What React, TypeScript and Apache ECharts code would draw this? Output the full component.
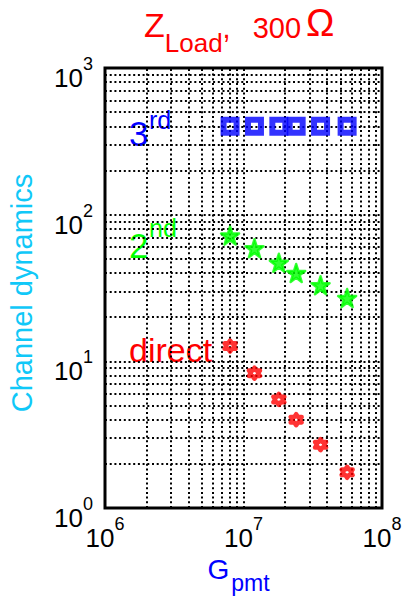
import React, { useEffect, useRef } from 'react';
import * as echarts from 'echarts';

const gains = [8e6, 1.2e7, 1.8e7, 2.4e7, 3.6e7, 5.6e7];
const thirdOrder = [400, 400, 400, 400, 400, 400];
const secondOrder = [72, 59, 47, 40, 33, 27];
const directPath = [12.7, 8.3, 5.5, 4.0, 2.7, 1.75];
const xGridLines = [2e6, 3e6, 4e6, 5e6, 6e6, 7e6, 8e6, 9e6, 1e7, 2e7, 3e7, 4e7, 5e7, 6e7, 7e7, 8e7, 9e7];
const yGridLines = [2, 3, 4, 5, 6, 7, 8, 9, 10, 20, 30, 40, 50, 60, 70, 80, 90, 100, 200, 300, 400, 500, 600, 700, 800, 900];

const FONT = "Arial, 'Liberation Sans', sans-serif";

const PENTAGRAM =
  'path://M50,0 L61.23,34.55 L97.55,34.55 L68.16,55.9 L79.39,90.45 L50,69.1 L20.61,90.45 L31.84,55.9 L2.45,34.55 L38.77,34.55 Z';
const HEXAGRAM =
  'path://M50,0 L64.43,25 L93.3,25 L78.87,50 L93.3,75 L64.43,75 L50,100 L35.57,75 L6.7,75 L21.13,50 L6.7,25 L35.57,25 Z';

const expLabel = (v: number) => `{b|10}{e|${Math.round(Math.log10(v))}}`;
const tickRich = {
  b: { fontSize: 26, fontFamily: FONT, color: '#000', lineHeight: 36, verticalAlign: 'bottom' },
  e: { fontSize: 18, fontFamily: FONT, color: '#000', lineHeight: 36, verticalAlign: 'top' },
};

const titleTok = (fontSize: number, padding: number[]) => ({
  fontSize,
  fontFamily: FONT,
  fontWeight: 'normal',
  color: '#ff0000',
  lineHeight: 50,
  verticalAlign: 'bottom',
  padding,
});

export default function App() {
  const ref = useRef<HTMLDivElement>(null);
  useEffect(() => {
    if (!ref.current) return;
    const chart = echarts.init(ref.current, null, { renderer: 'svg' });
    const gridStyle = { color: '#000', type: [2, 2.7], width: 2 };
    const option: any = {
      animation: false,
      backgroundColor: '#fff',
      title: {
        text: '{z|Z}{s|Load}{c|,}{t|300}{o|Ω}',
        left: 144,
        top: 6,
        padding: 0,
        textStyle: {
          fontWeight: 'normal',
          rich: {
            z: titleTok(34, [0, 0, 14, 0]),
            s: titleTok(26, [0, 0, 0, 0]),
            c: titleTok(29, [0, 0, 14, 0]),
            t: titleTok(29, [0, 0, 14, 22]),
            o: titleTok(38, [0, 0, 14, 5]),
          },
        },
      },
      grid: {
        left: 105,
        top: 68,
        width: 277,
        height: 440,
        outerBoundsMode: 'none',
        containLabel: false,
        show: true,
        borderColor: '#000',
        borderWidth: 3,
        backgroundColor: '#fff',
      },
      xAxis: {
        type: 'log',
        logBase: 10,
        min: 1e6,
        max: 1e8,
        axisLine: { show: false },
        axisTick: { show: false },
        splitLine: { show: false },
        axisLabel: { formatter: expLabel, rich: tickRich, margin: 7 },
        name: '{g|G}{p|pmt}',
        nameLocation: 'middle',
        nameGap: 47,
        nameTextStyle: {
          rich: {
            g: { fontSize: 28, fontFamily: FONT, color: '#0000ff', lineHeight: 38, verticalAlign: 'bottom', padding: [0, 2, 11, 0] },
            p: { fontSize: 23, fontFamily: FONT, color: '#0000ff', lineHeight: 38, verticalAlign: 'bottom', padding: [0, 10, 0, 0] },
          },
        },
      },
      yAxis: {
        type: 'log',
        logBase: 10,
        min: 1,
        max: 1000,
        axisLine: { show: false },
        axisTick: { show: false },
        splitLine: { show: false },
        axisLabel: { formatter: expLabel, rich: tickRich, margin: 12, padding: [10, 0, 0, 0] },
        name: 'Channel dynamics',
        nameLocation: 'middle',
        nameGap: 69,
        nameTextStyle: { fontSize: 29, fontFamily: FONT, color: '#10c8f8', padding: [0, 10, 0, 0] },
      },
      graphic: [
        { type: 'rect', z: 3, shape: { x: 127, y: 105, width: 58, height: 53 }, style: { fill: '#fff' } },
        { type: 'text', z: 4, x: 129, y: 133, style: { text: '3', fontSize: 35, fontFamily: FONT, fill: '#0000ff', align: 'left', verticalAlign: 'middle' } },
        { type: 'text', z: 4, x: 149, y: 120, style: { text: 'rd', fontSize: 25, fontFamily: FONT, fill: '#0000ff', align: 'left', verticalAlign: 'middle' } },
        { type: 'rect', z: 3, shape: { x: 127, y: 207, width: 63, height: 60 }, style: { fill: '#fff' } },
        { type: 'text', z: 4, x: 129, y: 245, style: { text: '2', fontSize: 35, fontFamily: FONT, fill: '#00ff00', align: 'left', verticalAlign: 'middle' } },
        { type: 'text', z: 4, x: 149, y: 228, style: { text: 'nd', fontSize: 25, fontFamily: FONT, fill: '#00ff00', align: 'left', verticalAlign: 'middle' } },
        { type: 'rect', z: 3, shape: { x: 125, y: 328, width: 99, height: 36 }, style: { fill: '#fff' } },
        { type: 'text', z: 4, x: 129, y: 350, style: { text: 'direct', fontSize: 34, fontFamily: FONT, fill: '#ff0000', align: 'left', verticalAlign: 'middle' } },
      ],
      series: [
        {
          type: 'scatter',
          z: 1,
          data: [],
          silent: true,
          markLine: {
            silent: true,
            symbol: ['none', 'none'],
            label: { show: false },
            lineStyle: gridStyle,
            emphasis: { disabled: true },
            data: [
              ...xGridLines.map((v) => ({ xAxis: v })),
              ...yGridLines.map((v) => ({ yAxis: v })),
            ],
          },
        },
        {
          name: '3rd',
          type: 'scatter',
          z: 5,
          symbol: 'rect',
          symbolSize: 13,
          itemStyle: { color: 'rgba(0,0,0,0)', borderColor: '#0000ff', borderWidth: 6 },
          data: gains.map((g, i) => [g, thirdOrder[i]]),
        },
        {
          name: '2nd',
          type: 'scatter',
          z: 5,
          symbol: PENTAGRAM,
          symbolSize: 18,
          itemStyle: { color: '#00ff00', borderColor: '#00ff00', borderWidth: 2.5, borderJoin: 'round' },
          data: gains.map((g, i) => [g, secondOrder[i]]),
        },
        {
          name: 'direct',
          type: 'scatter',
          z: 5,
          symbol: HEXAGRAM,
          symbolSize: 11,
          itemStyle: { color: 'rgba(0,0,0,0)', borderColor: '#ff0000', borderWidth: 4.5, borderJoin: 'round' },
          data: gains.map((g, i) => [g, directPath[i]]),
        },
      ],
    };
    chart.setOption(option);
    return () => chart.dispose();
  }, []);
  return <div ref={ref} style={{ position: 'fixed', left: 0, top: 0, width: 405, height: 596 }} />;
}
